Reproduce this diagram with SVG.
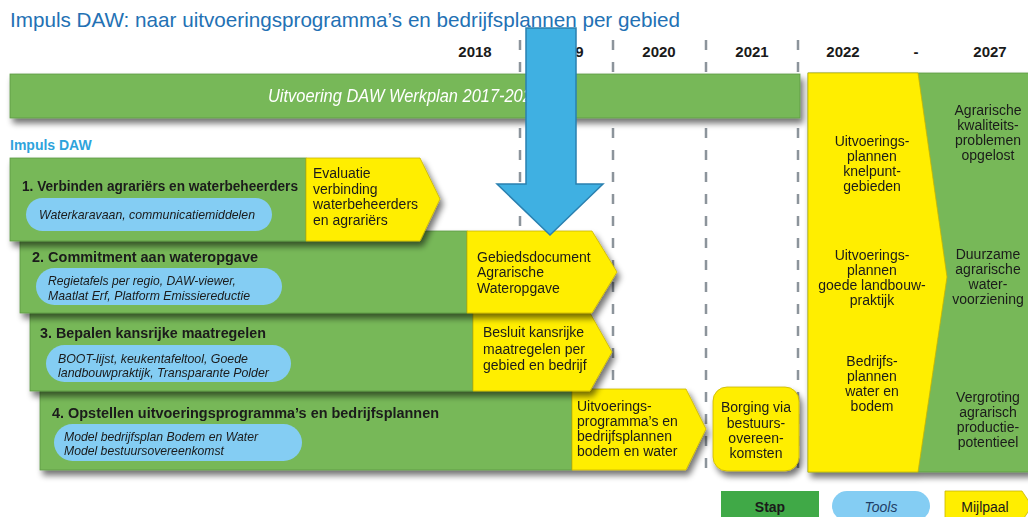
<svg xmlns="http://www.w3.org/2000/svg" width="1028" height="517" viewBox="0 0 1028 517">
<defs>
<filter id="sh" x="-10%" y="-20%" width="130%" height="160%">
<feGaussianBlur in="SourceAlpha" stdDeviation="3"/>
<feOffset dx="3" dy="5" result="b"/>
<feComponentTransfer><feFuncA type="linear" slope="0.55"/></feComponentTransfer>
<feMerge><feMergeNode/><feMergeNode in="SourceGraphic"/></feMerge>
</filter>
<style>
text{font-family:"Liberation Sans",Arial,sans-serif;fill:#1a1a1a}
.g{fill:#77b858;stroke:#5d9a45;stroke-width:0.8}
.y{fill:#ffee00;stroke:#c8b400;stroke-width:0.8}
.p{fill:#84cdf3}
.h{font-weight:bold;font-size:14.5px}
.t{font-style:italic;font-size:13px}
.m{font-size:14px}
.c{text-anchor:middle}
.yr{font-weight:bold;font-size:15px;text-anchor:middle}
.dash{stroke:#8c949b;stroke-width:2.5;stroke-dasharray:10 12;fill:none}
</style>
</defs>
<rect width="1028" height="517" fill="#ffffff"/>
<text x="10" y="27" font-size="21" textLength="670" lengthAdjust="spacingAndGlyphs" style="fill:#2371b4">Impuls DAW: naar uitvoeringsprogramma’s en bedrijfsplannen per gebied</text>
<g id="years">
<text class="yr" x="475" y="57">2018</text>
<text class="yr" x="567" y="57">2019</text>
<text class="yr" x="659" y="57">2020</text>
<text class="yr" x="752" y="57">2021</text>
<text class="yr" x="843" y="57">2022</text>
<text class="yr" x="916" y="57">-</text>
<text class="yr" x="990" y="57">2027</text>
</g>
<g id="gridlines">
<line class="dash" x1="520" y1="40" x2="520" y2="470"/>
<line class="dash" x1="613" y1="40" x2="613" y2="470"/>
<line class="dash" x1="706" y1="40" x2="706" y2="470"/>
<line class="dash" x1="798" y1="40" x2="798" y2="470"/>
</g>
<g id="werkplan" filter="url(#sh)">
<rect class="g" x="10" y="74" width="790" height="44"/>
<text x="268" y="102" font-size="18" font-style="italic" textLength="273" lengthAdjust="spacingAndGlyphs" style="fill:#ffffff">Uitvoering DAW Werkplan 2017-2021</text>
</g>
<text x="10" y="150" font-size="14" font-weight="bold" style="fill:#2ea3dc">Impuls DAW</text>
<g id="step4" filter="url(#sh)">
<rect class="g" x="40" y="389" width="532" height="81"/>
<polygon class="y" points="572,389 686,389 706,429 686,470 572,470"/>
<text class="h" x="52" y="418" textLength="387" lengthAdjust="spacingAndGlyphs">4. Opstellen uitvoeringsprogramma’s en bedrijfsplannen</text>
<rect class="p" x="54" y="424" width="248" height="37" rx="18.5"/>
<text class="t" x="64" y="441" textLength="194" lengthAdjust="spacingAndGlyphs">Model bedrijfsplan Bodem en Water</text>
<text class="t" x="64" y="455" textLength="160" lengthAdjust="spacingAndGlyphs">Model bestuursovereenkomst</text>
<text class="m" x="577" y="411">Uitvoerings-</text>
<text class="m" x="577" y="426">programma’s en</text>
<text class="m" x="577" y="441">bedrijfsplannen</text>
<text class="m" x="577" y="456">bodem en water</text>
</g>
<g id="step3" filter="url(#sh)">
<rect class="g" x="30" y="313" width="443" height="78"/>
<polygon class="y" points="473,313 590,313 612,352 590,391 473,391"/>
<text class="h" x="40" y="338" textLength="226" lengthAdjust="spacingAndGlyphs">3. Bepalen kansrijke maatregelen</text>
<rect class="p" x="46" y="345" width="245" height="37" rx="18.5"/>
<text class="t" x="58" y="363" textLength="190" lengthAdjust="spacingAndGlyphs">BOOT-lijst, keukentafeltool, Goede</text>
<text class="t" x="58" y="377" textLength="211" lengthAdjust="spacingAndGlyphs">landbouwpraktijk, Transparante Polder</text>
<text class="m" x="483" y="337">Besluit kansrijke</text>
<text class="m" x="483" y="354">maatregelen per</text>
<text class="m" x="483" y="370">gebied en bedrijf</text>
</g>
<g id="step2" filter="url(#sh)">
<rect class="g" x="20" y="231" width="447" height="82"/>
<polygon class="y" points="467,231 592,231 617,272 592,313 467,313"/>
<text class="h" x="32" y="262" textLength="226" lengthAdjust="spacingAndGlyphs">2. Commitment aan wateropgave</text>
<rect class="p" x="36" y="268" width="246" height="37" rx="18.5"/>
<text class="t" x="48" y="285" textLength="188" lengthAdjust="spacingAndGlyphs">Regietafels per regio, DAW-viewer,</text>
<text class="t" x="48" y="300" textLength="202" lengthAdjust="spacingAndGlyphs">Maatlat Erf, Platform Emissiereductie</text>
<text class="m" x="477" y="262">Gebiedsdocument</text>
<text class="m" x="477" y="277">Agrarische</text>
<text class="m" x="477" y="293">Wateropgave</text>
</g>
<g id="step1" filter="url(#sh)">
<rect class="g" x="10" y="158" width="296" height="83"/>
<polygon class="y" points="306,158 420,158 440,199 420,241 306,241"/>
<text class="h" x="22" y="191" textLength="276" lengthAdjust="spacingAndGlyphs">1. Verbinden agrariërs en waterbeheerders</text>
<rect class="p" x="26" y="198" width="246" height="33" rx="16.5"/>
<text class="t" x="39" y="219" textLength="216" lengthAdjust="spacingAndGlyphs">Waterkaravaan, communicatiemiddelen</text>
<text class="m" x="313" y="178">Evaluatie</text>
<text class="m" x="313" y="193.5">verbinding</text>
<text class="m" x="313" y="209">waterbeheerders</text>
<text class="m" x="313" y="224.5">en agrariërs</text>
</g>
<g id="borging" filter="url(#sh)">
<rect class="y" x="713" y="387" width="86" height="84" rx="14"/>
<text class="m c" x="756" y="412">Borging via</text>
<text class="m c" x="756" y="428">bestuurs-</text>
<text class="m c" x="756" y="443">overeen-</text>
<text class="m c" x="756" y="458">komsten</text>
</g>
<g id="outcomes" filter="url(#sh)">
<rect class="g" x="808" y="73" width="222" height="399"/>
<polygon class="y" points="808,73 918,73 947,277 918,472 808,472"/>
<text class="m c" x="872" y="146">Uitvoerings-</text>
<text class="m c" x="872" y="161">plannen</text>
<text class="m c" x="872" y="176">knelpunt-</text>
<text class="m c" x="872" y="191">gebieden</text>
<text class="m c" x="872" y="260">Uitvoerings-</text>
<text class="m c" x="872" y="275">plannen</text>
<text class="m c" x="872" y="290">goede landbouw-</text>
<text class="m c" x="872" y="305">praktijk</text>
<text class="m c" x="872" y="366">Bedrijfs-</text>
<text class="m c" x="872" y="381">plannen</text>
<text class="m c" x="872" y="396">water en</text>
<text class="m c" x="872" y="411">bodem</text>
<text class="m c" x="988" y="115">Agrarische</text>
<text class="m c" x="988" y="130">kwaliteits-</text>
<text class="m c" x="988" y="145">problemen</text>
<text class="m c" x="988" y="160">opgelost</text>
<text class="m c" x="988" y="259">Duurzame</text>
<text class="m c" x="988" y="274">agrarische</text>
<text class="m c" x="988" y="289">water-</text>
<text class="m c" x="988" y="304">voorziening</text>
<text class="m c" x="988" y="402">Vergroting</text>
<text class="m c" x="988" y="417">agrarisch</text>
<text class="m c" x="988" y="432">productie-</text>
<text class="m c" x="988" y="447">potentieel</text>
</g>
<g id="bigarrow">
<polygon points="526,28 576,28 576,184 603,184 550,235 497,184 526,184" fill="#3fb0e2" stroke="#2a80b0" stroke-width="1.5"/>
</g>
<g id="legend">
<g id="legend-stap"><rect x="721" y="491" width="98" height="30" fill="#40a947"/><text class="c" x="770" y="512" font-size="14" font-weight="bold">Stap</text></g>
<g id="legend-tools"><rect class="p" x="832" y="491" width="98" height="30" rx="15"/><text class="c" x="881" y="512" font-size="14" font-style="italic" style="fill:#1f3f66">Tools</text></g>
<g id="legend-mijlpaal"><polygon class="y" points="945,491 1022,491 1032,506 1022,521 945,521"/><text class="c" x="985" y="512" font-size="14">Mijlpaal</text></g>
</g>
</svg>
